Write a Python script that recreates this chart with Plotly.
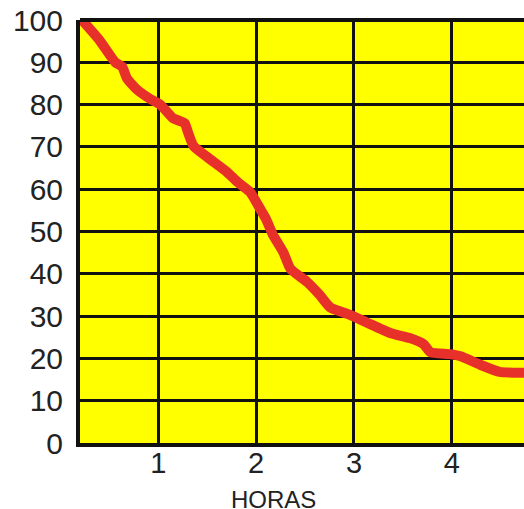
import plotly.graph_objects as go

horas = [0.22, 0.40, 0.56, 0.63, 0.68, 0.78, 0.92, 1.02, 1.15, 1.27, 1.30, 1.36,
         1.50, 1.70, 1.81, 1.94, 2.05, 2.10, 2.17, 2.28, 2.35, 2.52, 2.65, 2.76,
         2.96, 3.13, 3.37, 3.57, 3.71, 3.78, 3.98, 4.09, 4.29, 4.49, 4.73, 4.80]
porcentaje = [100, 95.2, 90, 89, 86.2, 83.6, 81.3, 80, 76.8, 75.6, 73.7, 70.2,
              67.6, 64.1, 61.7, 59.3, 55, 53, 49.3, 45, 41.2, 38.1, 35, 32,
              30.3, 28.5, 26, 24.8, 23.4, 21.5, 21, 20.5, 18.5, 16.8, 16.6, 16.6]
x_ticks = [1, 2, 3, 4]
y_ticks = list(range(0, 101, 10))
x_title = "HORAS"

fig = go.Figure()
fig.add_trace(go.Scatter(
    x=horas, y=porcentaje, mode="lines",
    line=dict(color="#e8302a", width=10, shape="spline", smoothing=0.5),
    hoverinfo="skip", showlegend=False,
))

font_family = "Liberation Sans, Arial, sans-serif"

# figure is a little wider than the window so the plot area runs off the right edge
fig.update_layout(
    width=532, height=509,
    margin=dict(l=80, r=0, t=20, b=66),
    paper_bgcolor="white",
    plot_bgcolor="#ffff00",
    font=dict(family=font_family, color="#222222"),
    hovermode=False,
    xaxis=dict(
        range=[0.2, 4.82], tickvals=x_ticks, ticktext=[str(v) for v in x_ticks],
        showgrid=True, gridcolor="#111111", gridwidth=3,
        showline=True, linecolor="#111111", linewidth=4,
        zeroline=False, ticks="", ticklabelstandoff=-9,
        ticklabeloverflow="allow",
        tickfont=dict(size=29, family=font_family, color="#222222"),
    ),
    yaxis=dict(
        range=[0, 100], tickvals=y_ticks, ticktext=[str(v) for v in y_ticks],
        showgrid=True, gridcolor="#111111", gridwidth=3,
        showline=True, linecolor="#111111", linewidth=4,
        zeroline=False, ticks="", ticklabelstandoff=7,
        ticklabeloverflow="allow",
        tickfont=dict(size=30, family=font_family, color="#222222"),
    ),
    shapes=[dict(
        type="line", xref="paper", yref="paper", x0=0, x1=1, y0=1, y1=1,
        line=dict(color="#111111", width=4), layer="above",
    )],
    annotations=[dict(
        text=x_title, xref="paper", yref="paper", x=0.428, y=-0.097,
        xanchor="center", yanchor="top", showarrow=False,
        font=dict(size=24, family=font_family, color="#222222"),
    )],
)

fig.write_html(
    "out.html",
    config={"displayModeBar": False, "staticPlot": True},
    post_script="document.body.style.margin='0';document.body.style.overflow='hidden';",
)
